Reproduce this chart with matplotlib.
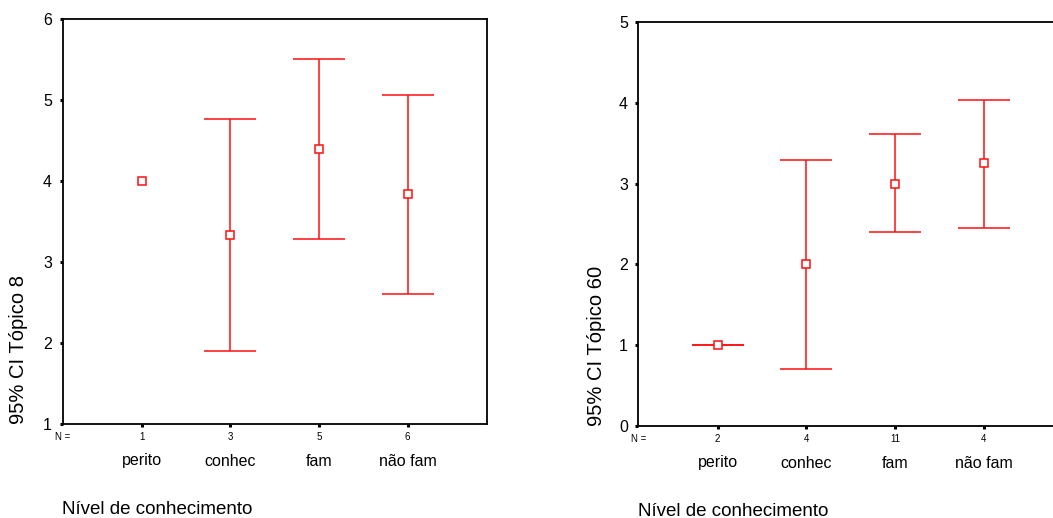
import matplotlib
matplotlib.use("Agg")
import matplotlib.pyplot as plt
import numpy as np

plt.rcParams["font.family"] = ["Liberation Sans", "DejaVu Sans"]

categories = ["perito", "conhec", "fam", "não fam"]

# Tópico 8
t8_n = [1, 3, 5, 6]
t8_mean = [4.0, 3.33, 4.40, 3.84]
t8_low = [np.nan, 1.90, 3.28, 2.61]
t8_high = [np.nan, 4.77, 5.51, 5.06]

# Tópico 60
t60_n = [2, 4, 11, 4]
t60_mean = [1.0, 2.0, 3.0, 3.25]
t60_low = [1.0, 0.70, 2.40, 2.45]
t60_high = [1.0, 3.29, 3.61, 4.04]

RED = "#ff1010"
W, H = 1053, 518


def draw_panel(fig, rect, n, mean, low, high, ylim, ylabel, ylabel_x):
    ax = fig.add_axes(rect)
    x = np.arange(1, len(categories) + 1)
    mean = np.array(mean)
    err = np.array([mean - np.array(low), np.array(high) - mean])
    ax.errorbar(x, mean, yerr=err, fmt="s", color=RED, ecolor=RED,
                mfc="white", mec=RED, ms=6, mew=1.1, elinewidth=1.1,
                capsize=18.5, capthick=1.1, clip_on=False)
    ax.set_xlim(0.105, 4.895)
    ax.set_ylim(*ylim)
    ax.set_yticks(range(ylim[0], ylim[1] + 1))
    ax.set_xticks(x)
    ax.set_xticklabels([])
    ax.tick_params(axis="both", direction="out", length=2.5, width=2.2,
                   color="black", labelsize=11.5, pad=5)
    for s in ax.spines.values():
        s.set_linewidth(1.3)
        s.set_color("black")

    trans = ax.get_xaxis_transform()
    h_px = rect[3] * H
    y_n = -13 / h_px
    y_cat = -37 / h_px
    y_title = -85 / h_px
    ax.text(0.105, y_n, "N =", transform=trans, ha="center", va="center", fontsize=7)
    for xi, ni, cat in zip(x, n, categories):
        ax.text(xi, y_n, str(ni), transform=trans, ha="center", va="center", fontsize=7)
        ax.text(xi, y_cat, cat, transform=trans, ha="center", va="center", fontsize=11.5)
    ax.text(0.0, y_title, "Nível de conhecimento", transform=ax.transAxes,
            ha="left", va="center", fontsize=13.5)
    fig.text(ylabel_x / W, rect[1], ylabel, rotation=90, ha="center", va="bottom",
             fontsize=14.5)
    return ax


fig = plt.figure(figsize=(W / 100, H / 100), dpi=100)

draw_panel(fig, [62.5 / W, (H - 424) / H, 424.5 / W, 405 / H],
           t8_n, t8_mean, t8_low, t8_high, (1, 6), "95% CI Tópico 8", 19)
draw_panel(fig, [638.3 / W, (H - 426) / H, 425 / W, 404 / H],
           t60_n, t60_mean, t60_low, t60_high, (0, 5), "95% CI Tópico 60", 596)

fig.savefig("out.png", dpi=100)
